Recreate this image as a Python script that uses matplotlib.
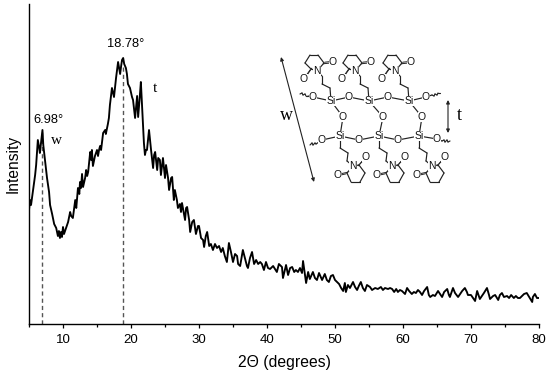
import matplotlib
matplotlib.use('Agg')
import matplotlib.pyplot as plt

plt.rcParams['font.family'] = ['Liberation Sans', 'DejaVu Sans']

# Diffraction trace
two_theta = [5.0, 5.15, 5.3, 5.6, 5.9, 6.05, 6.3, 6.5, 6.6, 6.98, 7.1, 7.35, 7.65, 7.95, 8.1, 8.4, 8.7, 9.0, 9.25, 9.4,
             9.55, 9.7, 9.85, 10.0, 10.15, 10.45, 10.75, 11.05, 11.2, 11.45, 11.8, 11.95, 12.2, 12.4, 12.5, 12.65, 12.8, 12.95, 13.25, 13.4,
             13.55, 13.7, 14.0, 14.15, 14.25, 14.4, 14.7, 15.0, 15.15, 15.3, 15.45, 15.6, 15.9, 16.2, 16.3, 16.6, 16.75, 16.9, 17.2, 17.5,
             17.8, 18.1, 18.25, 18.4, 18.55, 18.68, 18.85, 19.0, 19.25, 19.4, 19.55, 19.85, 20.15, 20.3, 20.6, 20.9, 21.05, 21.3, 21.45, 21.75,
             21.9, 22.05, 22.2, 22.35, 22.65, 22.95, 23.25, 23.4, 23.55, 23.85, 24.0, 24.25, 24.4, 24.7, 25.0, 25.15, 25.45, 25.6, 25.9, 26.05,
             26.3, 26.45, 26.75, 26.9, 27.2, 27.35, 27.5, 27.95, 28.1, 28.25, 28.55, 28.7, 29.0, 29.25, 29.55, 29.85, 30.0, 30.3, 30.6, 30.75,
             31.0, 31.2, 31.5, 31.75, 32.05, 32.35, 32.65, 32.95, 33.25, 33.5, 33.8, 34.1, 34.4, 34.7, 35.0, 35.3, 35.6, 35.75, 36.05, 36.45,
             36.75, 37.05, 37.2, 37.5, 37.8, 38.1, 38.4, 38.7, 39.0, 39.25, 39.55, 39.85, 40.15, 40.45, 40.9, 41.45, 41.75, 42.2, 42.35, 42.8,
             43.1, 43.4, 43.7, 44.0, 44.25, 44.55, 44.85, 45.15, 45.3, 45.75, 46.05, 46.3, 46.75, 47.05, 47.35, 47.65, 48.1, 48.5, 48.8, 49.1,
             49.4, 49.7, 50.0, 50.3, 50.6, 50.9, 51.2, 51.45, 51.6, 51.9, 52.2, 52.65, 52.95, 53.25, 53.5, 53.8, 54.1, 54.4, 54.7, 55.15,
             55.45, 55.9, 56.3, 56.75, 57.05, 57.35, 57.8, 58.1, 58.4, 58.7, 59.0, 59.25, 59.55, 59.85, 60.15, 60.3, 60.6, 60.9, 61.3, 61.6,
             61.9, 62.2, 62.5, 62.8, 63.1, 63.55, 63.8, 64.0, 64.4, 64.7, 65.15, 65.45, 65.75, 66.05, 66.5, 66.75, 66.9, 67.35, 67.65, 68.1,
             68.4, 68.7, 69.1, 69.4, 69.55, 70.0, 70.3, 70.6, 70.9, 71.3, 71.6, 71.9, 72.35, 72.65, 72.8, 73.25, 73.55, 74.0, 74.25, 74.55,
             74.85, 75.3, 75.6, 75.9, 76.3, 76.6, 76.9, 77.2, 77.5, 77.8, 78.2, 78.55, 79.0, 79.1, 79.4, 79.7, 80.0]
intensity = [114, 124, 119, 134, 149, 159, 184, 176, 171, 194, 179, 164, 146, 132, 119, 110, 100, 96, 88, 93,
             86, 92, 87, 97, 90, 96, 102, 112, 108, 106, 124, 116, 136, 130, 142, 136, 150, 137, 146, 154,
             148, 152, 172, 164, 174, 158, 168, 174, 168, 174, 178, 174, 191, 194, 190, 200, 206, 219, 236, 227,
             246, 262, 256, 250, 258, 264, 266, 260, 256, 250, 240, 236, 227, 224, 206, 228, 207, 228, 242, 201,
             181, 169, 174, 174, 194, 174, 156, 169, 172, 154, 166, 164, 149, 166, 146, 159, 146, 134, 146, 147,
             124, 134, 124, 116, 120, 112, 121, 104, 116, 117, 104, 92, 102, 104, 90, 98, 98, 86, 84, 77,
             88, 92, 78, 80, 74, 80, 76, 78, 72, 76, 68, 62, 81, 72, 62, 70, 68, 60, 58, 74,
             66, 58, 56, 66, 72, 60, 64, 60, 62, 60, 54, 62, 56, 55, 58, 52, 60, 57, 46, 59,
             49, 56, 57, 52, 54, 52, 56, 51, 63, 41, 52, 45, 52, 46, 44, 51, 44, 50, 44, 42,
             48, 49, 44, 42, 40, 36, 33, 41, 32, 39, 36, 42, 37, 34, 38, 42, 36, 33, 39, 37,
             34, 36, 35, 37, 34, 36, 35, 36, 35, 32, 35, 32, 34, 33, 31, 30, 36, 33, 30, 32,
             31, 34, 32, 29, 33, 37, 29, 27, 29, 28, 33, 30, 27, 32, 35, 29, 27, 36, 31, 27,
             30, 33, 36, 32, 29, 29, 26, 23, 33, 25, 28, 31, 36, 29, 25, 28, 29, 24, 29, 31,
             27, 28, 26, 29, 26, 28, 26, 26, 28, 30, 31, 27, 22, 27, 30, 26, 26]

peak_pos = [6.98, 18.78]
peak_top = [194, 258]
peak_labels = ['6.98°', '18.78°']
x_major = [10, 20, 30, 40, 50, 60, 70, 80]
x_minor = [5, 15, 25, 35, 45, 55, 65, 75]

fig = plt.figure(figsize=(5.5, 3.77), dpi=100)
ax = fig.add_axes([29 / 550, 53 / 377, 510 / 550, 320 / 377])
ax.plot(two_theta, intensity, color='black', lw=1.35, zorder=3)
for p, top in zip(peak_pos, peak_top):
    ax.plot([p, p], [0, top], color='#555555', lw=1.0, ls=(0, (3, 2.2)), zorder=2)

ax.set_xlim(5, 80)
ax.set_ylim(0, 320)
ax.set_xticks(x_major)
ax.set_xticks(x_minor, minor=True)
ax.set_yticks([])
ax.tick_params(axis='x', which='major', length=3, width=0.9, labelsize=9.5, pad=4)
ax.tick_params(axis='x', which='minor', length=2, width=0.9)
for side in ['top', 'right']:
    ax.spines[side].set_visible(False)
for side in ['left', 'bottom']:
    ax.spines[side].set_linewidth(1.0)
ax.set_xlabel('2Θ (degrees)', fontsize=11.3, labelpad=7)
ax.set_ylabel('Intensity', fontsize=11.2, labelpad=6)

# Overlay in pixel coordinates for the annotations and the structure sketch
ov = fig.add_axes([0, 0, 1, 1], facecolor='none')
ov.set_xlim(0, 550)
ov.set_ylim(377, 0)
ov.axis('off')

ov.text(48, 120, peak_labels[0], fontsize=9.3, ha='center', va='center')
ov.text(126, 44, peak_labels[1], fontsize=9.3, ha='center', va='center')
ov.text(56, 141, 'w', fontsize=11, family='Liberation Serif', ha='center', va='center')
ov.text(155, 89, 't', fontsize=11, family='Liberation Serif', ha='center', va='center')


def bond(a, b, lw=0.85):
    ov.plot([a[0], b[0]], [a[1], b[1]], color='#222222', lw=lw, solid_capstyle='round', zorder=4)


def atom(p, s, size=7.5):
    ov.text(p[0], p[1], s, fontsize=size, ha='center', va='center', color='#111111', zorder=6,
            bbox=dict(facecolor='white', edgecolor='none', pad=0.1))


def chain(pts):
    for a, b in zip(pts[:-1], pts[1:]):
        bond(a, b)


def ring(n, verts, o1, o2, i1, i2):
    pts = [(n[0] + v[0], n[1] + v[1]) for v in verts]
    chain([n] + pts + [n])
    for o, i in [(o1, i1), (o2, i2)]:
        c = pts[i]
        oxy = (n[0] + o[0], n[1] + o[1])
        bond((c[0] + 0.8, c[1] - 0.8), (oxy[0] + 0.8, oxy[1] - 0.8), 0.7)
        bond((c[0] - 0.8, c[1] + 0.8), (oxy[0] - 0.8, oxy[1] + 0.8), 0.7)
        atom(oxy, 'O')
    atom(n, 'N')


si_top = [(331, 101), (369, 101), (409, 101)]
si_bot = [(340, 136), (379, 136), (419, 136)]
o_top = [(313, 97), (349, 97), (388, 97), (426, 97)]
o_bot = [(322, 140), (359, 140), (398, 140), (437, 139)]
o_mid = [(343, 117), (383, 117), (422, 117)]

chain([o_top[0], si_top[0], o_top[1], si_top[1], o_top[2], si_top[2], o_top[3]])
chain([o_bot[0], si_bot[0], o_bot[1], si_bot[1], o_bot[2], si_bot[2], o_bot[3]])
for i in range(3):
    chain([si_top[i], o_mid[i], si_bot[i]])

# wavy chain ends
chain([(300, 94), (302, 93), (303, 95), (305, 94), (306, 96), (308, 96), (313, 97)])
chain([(426, 97), (432, 95), (434, 96), (435, 94), (437, 95), (438, 93), (440, 93)])
chain([(310, 145), (312, 143), (313, 145), (315, 143), (316, 144), (322, 140)])
chain([(437, 139), (442, 141), (444, 140), (445, 142), (447, 140), (448, 142), (450, 141)])

top_verts = [(-6, -2), (-12, -8), (-7, -16), (1, -16), (7, -8)]
bot_verts = [(6, -1), (12, 7), (7, 16), (-2, 16), (-6, 7)]
for si in si_top:
    n = (si[0] - 14, 71)
    chain([si, (si[0] - 1, 88), (si[0] - 9, 84), (si[0] - 9, 76), n])
    ring(n, top_verts, (16, -9), (-13, 8), 4, 0)
for si in si_bot:
    n = (si[0] + 13, 166)
    chain([si, (si[0], 148), (si[0] + 8, 153), (si[0] + 7, 161), n])
    ring(n, bot_verts, (13, -9), (-15, 9), 0, 4)

for p in o_top + o_bot + o_mid:
    atom(p, 'O')
for p in si_top + si_bot:
    atom(p, 'Si')

# w and t arrows
ov.annotate('', xy=(281, 57), xytext=(314, 182),
            arrowprops=dict(arrowstyle='<|-|>', color='#222222', lw=0.8, mutation_scale=5, shrinkA=0, shrinkB=0))
ov.annotate('', xy=(448, 100), xytext=(448, 133),
            arrowprops=dict(arrowstyle='<|-|>', color='#222222', lw=0.8, mutation_scale=5, shrinkA=0, shrinkB=0))
ov.text(286, 115, 'w', fontsize=13, family='Liberation Serif', ha='center', va='center')
ov.text(459, 115, 't', fontsize=13, family='Liberation Serif', ha='center', va='center')

fig.savefig('out.png', dpi=100)
